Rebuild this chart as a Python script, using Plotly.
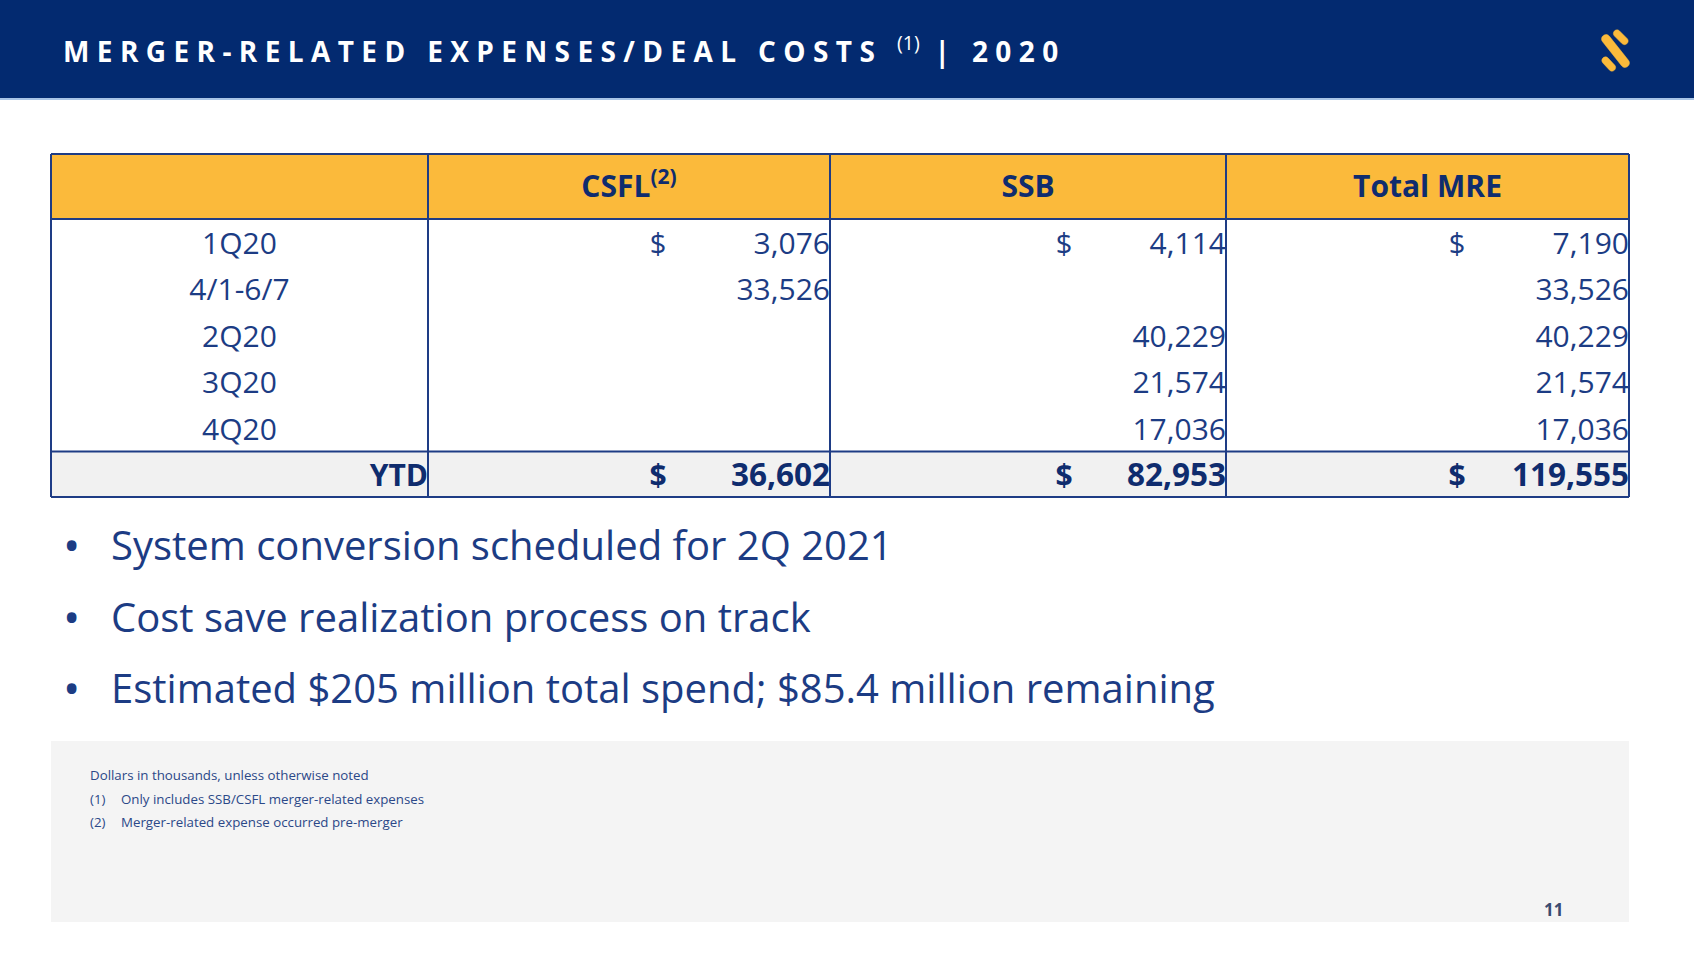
import math
import plotly.graph_objects as go

# ---------------- data ----------------
title_main = "MERGER-RELATED EXPENSES/DEAL COSTS "
title_sup = "(1)"
title_tail = " | 2020"

col_headers = ["", "CSFL<sup>(2)</sup>", "SSB", "Total MRE"]
row_labels = ["1Q20", "4/1-6/7", "2Q20", "3Q20", "4Q20"]
csfl = [3076, 33526, None, None, None]
ssb = [4114, None, 40229, 21574, 17036]
total_mre = [7190, 33526, 40229, 21574, 17036]
dollar_rows = [True, False, False, False, False]
ytd_label = "YTD"
ytd_values = [36602, 82953, 119555]

bullets = [
    "System conversion scheduled for 2Q 2021",
    "Cost save realization process on track",
    "Estimated $205 million total spend; $85.4 million remaining",
]
footnotes = [
    ("", "Dollars in thousands, unless otherwise noted"),
    ("(1)", "Only includes SSB/CSFL merger-related expenses"),
    ("(2)", "Merger-related expense occurred pre-merger"),
]
page_number = "11"

# ---------------- style / layout ----------------
W, H = 1694, 953
NAVY_BAND = "#032A70"
NAVY_TEXT = "#1C3C84"
NAVY_BOLD = "#0F2C6E"
BORDER = "#1E3C85"
YELLOW = "#FBBA3B"
FONT = "Open Sans"

tbl_left, tbl_right = 51, 1629
tbl_top, hdr_bottom = 154, 219
col_lines = [428, 830, 1226]
row_h = 46.5
ytd_top = hdr_bottom + row_h * len(row_labels)
tbl_bottom = ytd_top + 45.5

col_edges = [tbl_left] + col_lines + [tbl_right]
dollar_offsets = [None, 172, 162, 172]  # distance of $ from right edge of column
TXT_DY = 4

fig = go.Figure()
shapes = []

# header band
shapes.append(dict(type="rect", x0=0, x1=W, y0=0, y1=98, fillcolor=NAVY_BAND, line_width=0, layer="below"))
shapes.append(dict(type="rect", x0=0, x1=W, y0=98, y1=100, fillcolor="#A8C4E6", line_width=0, layer="below"))

# logo (three slanted bars with rounded ends)
def bar(ax, ay, bx, by, w, color):
    dx, dy = bx - ax, by - ay
    L = math.hypot(dx, dy)
    ux, uy = dx / L, dy / L
    px, py = -uy * w, ux * w
    k = 1.33 * w
    p1 = (ax + px, ay + py)
    p2 = (bx + px, by + py)
    p3 = (bx - px, by - py)
    p4 = (ax - px, ay - py)
    c1 = (p2[0] + ux * k, p2[1] + uy * k)
    c2 = (p3[0] + ux * k, p3[1] + uy * k)
    c3 = (p4[0] - ux * k, p4[1] - uy * k)
    c4 = (p1[0] - ux * k, p1[1] - uy * k)
    f = lambda p: f"{p[0]:.2f},{p[1]:.2f}"
    path = (f"M {f(p1)} L {f(p2)} C {f(c1)} {f(c2)} {f(p3)} L {f(p4)} "
            f"C {f(c3)} {f(c4)} {f(p1)} Z")
    return dict(type="path", path=path, fillcolor=color, line=dict(color=color, width=0.5), layer="above")

shapes.append(bar(1606, 39, 1625, 63, 4.4, YELLOW))
shapes.append(bar(1617, 33.5, 1624.5, 41, 3.6, YELLOW))
shapes.append(bar(1605.5, 60.5, 1612, 67.5, 3.6, YELLOW))

# table backgrounds
shapes.append(dict(type="rect", x0=tbl_left, x1=tbl_right, y0=tbl_top, y1=hdr_bottom, fillcolor=YELLOW, line_width=0, layer="below"))
shapes.append(dict(type="rect", x0=tbl_left, x1=tbl_right, y0=ytd_top, y1=tbl_bottom, fillcolor="#F1F1F1", line_width=0, layer="below"))

# footnote panel
shapes.append(dict(type="rect", x0=51, x1=1629, y0=741, y1=922, fillcolor="#F4F4F4", line_width=0, layer="below"))

# table lines
for x in col_edges:
    shapes.append(dict(type="line", x0=x, x1=x, y0=tbl_top, y1=tbl_bottom, line=dict(color=BORDER, width=2)))
for y in [tbl_top, hdr_bottom, ytd_top, tbl_bottom]:
    shapes.append(dict(type="line", x0=tbl_left, x1=tbl_right, y0=y, y1=y, line=dict(color=BORDER, width=2.2)))

# header text
hdr_y = (tbl_top + hdr_bottom) / 2
fig.add_trace(go.Scatter(
    x=[(col_edges[i] + col_edges[i + 1]) / 2 for i in range(1, 4)],
    y=[hdr_y + 3] * 3,
    mode="text", text=[f"<b>{h}</b>" for h in col_headers[1:]],
    textposition="middle center",
    textfont=dict(family=FONT, size=30, color=NAVY_BOLD),
    hoverinfo="skip", showlegend=False,
))

row_y = [hdr_bottom + row_h * (i + 0.5) + TXT_DY for i in range(len(row_labels))]

# row labels
fig.add_trace(go.Scatter(
    x=[(col_edges[0] + col_edges[1]) / 2] * len(row_labels), y=row_y,
    mode="text", text=row_labels, textposition="middle center",
    textfont=dict(family=FONT, size=30, color=NAVY_TEXT),
    hoverinfo="skip", showlegend=False,
))

# numeric columns
for ci, series in enumerate([csfl, ssb, total_mre], start=1):
    right = col_edges[ci + 1]
    xs, ys, ts = [], [], []
    dx, dy = [], []
    for v, yv, hasd in zip(series, row_y, dollar_rows):
        if v is None:
            continue
        xs.append(right)
        ys.append(yv)
        ts.append(f"{v:,}")
        if hasd:
            dx.append(right - dollar_offsets[ci])
            dy.append(yv)
    fig.add_trace(go.Scatter(
        x=xs, y=ys, mode="text", text=ts, textposition="middle left",
        textfont=dict(family=FONT, size=30, color=NAVY_TEXT),
        hoverinfo="skip", showlegend=False,
    ))
    fig.add_trace(go.Scatter(
        x=dx, y=dy, mode="text", text=["$"] * len(dx), textposition="middle center",
        textfont=dict(family=FONT, size=29, color=NAVY_TEXT),
        hoverinfo="skip", showlegend=False,
    ))

# YTD row
ytd_y = (ytd_top + tbl_bottom) / 2 + TXT_DY
fig.add_trace(go.Scatter(
    x=[col_edges[1]], y=[ytd_y], mode="text", text=[f"<b>{ytd_label}</b>"],
    textposition="middle left", textfont=dict(family=FONT, size=30, color=NAVY_BOLD),
    hoverinfo="skip", showlegend=False,
))
fig.add_trace(go.Scatter(
    x=[col_edges[ci + 1] for ci in range(1, 4)], y=[ytd_y] * 3, mode="text",
    text=[f"<b>{v:,}</b>" for v in ytd_values], textposition="middle left",
    textfont=dict(family=FONT, size=31.5, color=NAVY_BOLD),
    hoverinfo="skip", showlegend=False,
))
fig.add_trace(go.Scatter(
    x=[col_edges[ci + 1] - dollar_offsets[ci] for ci in range(1, 4)], y=[ytd_y] * 3, mode="text",
    text=["<b>$</b>"] * 3, textposition="middle center",
    textfont=dict(family=FONT, size=30, color=NAVY_BOLD),
    hoverinfo="skip", showlegend=False,
))

annotations = []
# title
title_txt = (f'<span style="letter-spacing:7.4px"><b>{title_main}</b></span>'
             f'<sup>{title_sup}</sup>'
             f'<span style="letter-spacing:7.4px"><b>{title_tail}</b></span>')
annotations.append(dict(x=61, y=49, xref="x", yref="y", text=title_txt, showarrow=False,
                        xanchor="left", yanchor="middle",
                        font=dict(family=FONT, size=28, color="white")))

# bullets
bullet_y = [544, 616, 687]
for b, yv in zip(bullets, bullet_y):
    annotations.append(dict(x=71, y=yv, xref="x", yref="y", text="•", showarrow=False,
                            xanchor="center", yanchor="middle",
                            font=dict(family=FONT, size=46, color=NAVY_TEXT)))
    annotations.append(dict(x=109, y=yv, xref="x", yref="y", text=b, showarrow=False,
                            xanchor="left", yanchor="middle",
                            font=dict(family=FONT, size=40, color=NAVY_TEXT)))

# footnotes
FN_COLOR = "#2B4888"
fn_y = [775, 799, 822]
for (num, txt), yv in zip(footnotes, fn_y):
    if num:
        annotations.append(dict(x=88, y=yv, xref="x", yref="y", text=num, showarrow=False,
                                xanchor="left", yanchor="middle",
                                font=dict(family=FONT, size=13.3, color=FN_COLOR)))
        annotations.append(dict(x=119, y=yv, xref="x", yref="y", text=txt, showarrow=False,
                                xanchor="left", yanchor="middle",
                                font=dict(family=FONT, size=13.3, color=FN_COLOR)))
    else:
        annotations.append(dict(x=88, y=yv, xref="x", yref="y", text=txt, showarrow=False,
                                xanchor="left", yanchor="middle",
                                font=dict(family=FONT, size=13.3, color=FN_COLOR)))

annotations.append(dict(x=1553, y=909, xref="x", yref="y", text="<b>" + page_number + "</b>", showarrow=False,
                        xanchor="center", yanchor="middle",
                        font=dict(family=FONT, size=17, color="#3A4B70")))

fig.update_layout(
    width=W, height=H, margin=dict(l=0, r=0, t=0, b=0),
    paper_bgcolor="white", plot_bgcolor="white",
    xaxis=dict(range=[0, W], visible=False, fixedrange=True),
    yaxis=dict(range=[H, 0], visible=False, fixedrange=True),
    shapes=shapes, annotations=annotations, showlegend=False,
)

fig.write_html(
    "out.html",
    config={"displayModeBar": False},
    post_script="document.body.style.margin='0';document.body.style.padding='0';document.body.style.overflow='hidden';",
)
